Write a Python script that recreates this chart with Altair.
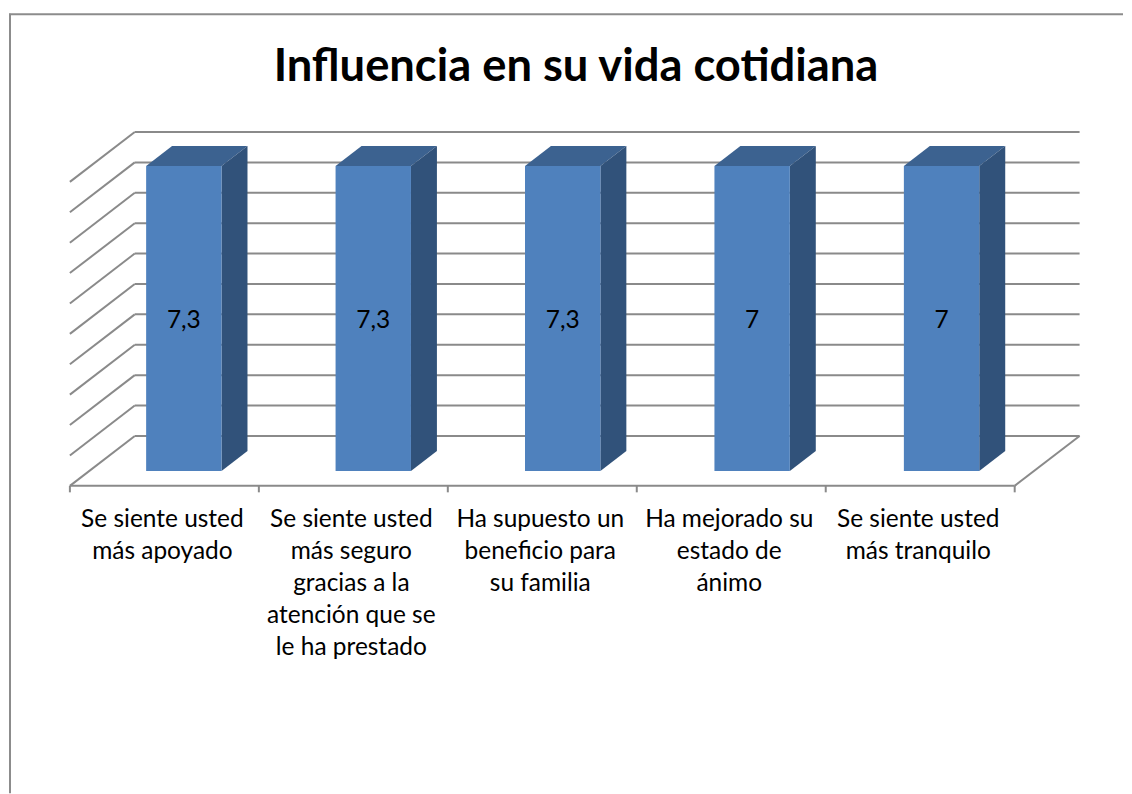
import altair as alt
import pandas as pd

# ---- chart values ----
categories = [
    "Se siente usted\nmás apoyado",
    "Se siente usted\nmás seguro\ngracias a la\natención que se\nle ha prestado",
    "Ha supuesto un\nbeneficio para\nsu familia",
    "Ha mejorado su\nestado de\nánimo",
    "Se siente usted\nmás tranquilo",
]
value_labels = ["7,3", "7,3", "7,3", "7", "7"]
bar_heights = [10.03, 10.03, 10.03, 10.03, 10.03]
axis_levels = list(range(0, 11))
title_text = "Influencia en su vida cotidiana"

# ---- oblique projection and scale set-up ----
PX_X, PX_Y = 189.3, 30.45          # pixels per category / per value unit
DX, DY = 65 / PX_X, 50 / PX_Y      # full floor depth in data units
W, H = 1116, 786                   # plot box from (8, 8)
ORIGIN_X, ORIGIN_Y = 61, 478       # pixel position of the (0, 0) corner in the plot
x_scale = alt.Scale(domain=[-ORIGIN_X / PX_X, (W - ORIGIN_X) / PX_X], nice=False, zero=False)
y_scale = alt.Scale(domain=[-(H - ORIGIN_Y) / PX_Y, ORIGIN_Y / PX_Y], nice=False, zero=False)
X = alt.X("x:Q", scale=x_scale, axis=None)
Y = alt.Y("y:Q", scale=y_scale, axis=None)
X2, Y2 = alt.X2("x2:Q"), alt.Y2("y2:Q")

BAR_W = 0.399
BAR_STEP = 1.0025  # bars sit a hair wider apart than the ticks
BAR_START = 0.30   # fraction of floor depth where the bar front stands
BAR_DEPTH = 0.40   # fraction of floor depth the bar takes
n = len(categories)

GRID = "#8a8a8a"
FRONT, TOP, SIDE = "#4f81bd", "#3c6290", "#31527a"
FONT = "Lato"


def rules(rows, width=2, color=GRID):
    return (
        alt.Chart(pd.DataFrame(rows))
        .mark_rule(color=color, strokeWidth=width)
        .encode(x=X, y=Y, x2=X2, y2=Y2)
    )


back = rules([{"x": DX, "x2": n + DX, "y": v + DY, "y2": v + DY} for v in axis_levels])
wall = rules([{"x": 0, "x2": DX, "y": v, "y2": v + DY} for v in axis_levels])
floor = rules(
    [{"x": 0, "x2": n, "y": 0, "y2": 0}, {"x": n, "x2": n + DX, "y": 0, "y2": DY}]
    + [{"x": i, "x2": i, "y": 0, "y2": -6.5 / PX_Y} for i in range(n + 1)]
)

front_rows, top_rows, side_rows, text_rows, cat_rows = [], [], [], [], []
for i, (c, lab, h) in enumerate(zip(categories, value_labels, bar_heights)):
    x0 = i * BAR_STEP + 0.5 + BAR_START * DX - BAR_W / 2
    x1 = x0 + BAR_W
    y0 = BAR_START * DY
    ox, oy = BAR_DEPTH * DX, BAR_DEPTH * DY
    front_rows.append({"x": x0, "x2": x1, "y": y0, "y2": y0 + h})
    top_rows += [
        {"b": i, "y": y0 + h, "x": x0, "x2": x1},
        {"b": i, "y": y0 + h + oy, "x": x0 + ox, "x2": x1 + ox},
    ]
    side_rows += [
        {"b": i, "x": x1, "y": y0, "y2": y0 + h},
        {"b": i, "x": x1 + ox, "y": y0 + oy, "y2": y0 + oy + h},
    ]
    text_rows.append({"x": (x0 + x1) / 2, "y": y0 + h / 2 - 3 / PX_Y, "t": lab})
    cat_rows.append({"x": i + 0.5 - 2 / PX_X, "y": -22.5 / PX_Y, "t": c})

front = (
    alt.Chart(pd.DataFrame(front_rows))
    .mark_rect(color=FRONT)
    .encode(x=X, x2=X2, y=Y, y2=Y2)
)
side = (
    alt.Chart(pd.DataFrame(side_rows))
    .mark_area(color=SIDE, orient="vertical", opacity=1)
    .encode(x=X, y=Y, y2=Y2, detail="b:N")
)
top = (
    alt.Chart(pd.DataFrame(top_rows))
    .mark_area(color=TOP, orient="horizontal", opacity=1)
    .encode(y=Y, x=X, x2=X2, detail="b:N")
)
value_text = (
    alt.Chart(pd.DataFrame(text_rows))
    .mark_text(font=FONT, fontSize=24.5, color="#000000", align="center", baseline="middle")
    .encode(x=X, y=Y, text="t:N")
)
cat_text = (
    alt.Chart(pd.DataFrame(cat_rows))
    .mark_text(font=FONT, fontSize=24.5, color="#000000", align="center", baseline="top",
               lineBreak="\n", lineHeight=32)
    .encode(x=X, y=Y, text="t:N")
)
border = alt.Chart(pd.DataFrame({"i": [0]})).mark_rule(color="#8c8c8c", strokeWidth=2)
border_left = border.encode(x=alt.value(1), y=alt.value(5), y2=alt.value(H))
border_top = border.encode(x=alt.value(0), x2=alt.value(W), y=alt.value(5.5))

chart = (
    alt.layer(border_left, border_top, back, wall, floor, top, side, front, value_text, cat_text)
    .properties(
        width=W,
        height=H,
        padding=0,
        background="#ffffff",
        title=alt.TitleParams(
            title_text, font=FONT, fontSize=45.4, fontWeight="bold", color="#000000",
            anchor="middle", offset=-82, dx=10,
        ),
    )
    .configure_view(stroke=None)
)

chart.save("out.html", embed_options={"renderer": "svg", "actions": False})
